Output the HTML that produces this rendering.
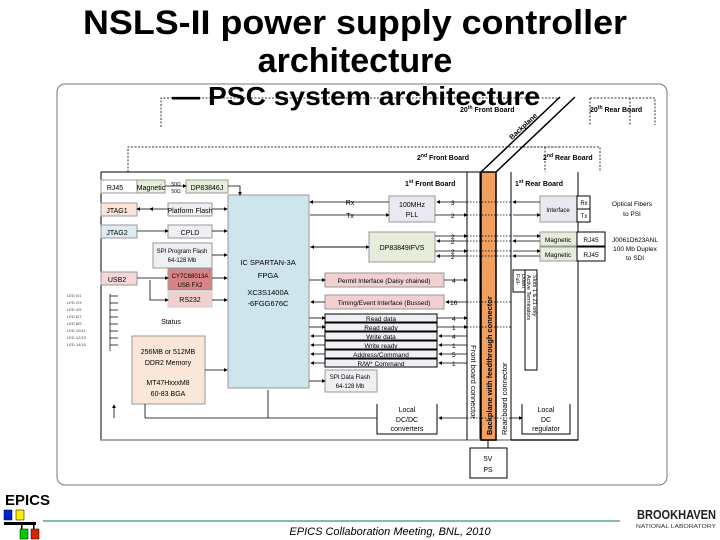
<!DOCTYPE html>
<html><head><meta charset="utf-8"><style>
body{margin:0;background:#fff;width:720px;height:540px;overflow:hidden}
svg{display:block}
text{font-family:"Liberation Sans",sans-serif}
</style></head><body>
<svg width="720" height="540" viewBox="0 0 720 540" xmlns="http://www.w3.org/2000/svg">
<defs><marker id="a" markerWidth="5" markerHeight="5" refX="4" refY="2.5" orient="auto"><path d="M0,0L5,2.5L0,5z" fill="#000"/></marker></defs>
<text x="355" y="34" font-size="34" font-weight="bold" text-anchor="middle" textLength="544" lengthAdjust="spacingAndGlyphs">NSLS-II power supply controller</text>
<text x="355" y="72" font-size="34" font-weight="bold" text-anchor="middle">architecture</text>
<rect x="57" y="84" width="610" height="401" rx="8" fill="none" stroke="#777" stroke-width="1"/>
<g fill="none" stroke="#333" stroke-width="1" stroke-dasharray="2,1.5">
<path d="M161,127V98H560M590,98H655V125M590,98V125M630,98V125"/>
<path d="M128,172V147H560M520,147H600V172M545,147V172"/>
</g>
<text x="172" y="105" font-size="26" font-weight="bold" textLength="368" lengthAdjust="spacingAndGlyphs">— PSC system architecture</text>
<text x="460" y="112" font-size="7" font-weight="bold">20<tspan font-size="5" dy="-3">th</tspan><tspan dy="3"> Front Board</tspan></text>
<text x="590" y="112" font-size="7" font-weight="bold">20<tspan font-size="5" dy="-3">th</tspan><tspan dy="3"> Rear Board</tspan></text>
<text x="417" y="160" font-size="7" font-weight="bold">2<tspan font-size="5" dy="-3">nd</tspan><tspan dy="3"> Front Board</tspan></text>
<text x="543" y="160" font-size="7" font-weight="bold">2<tspan font-size="5" dy="-3">nd</tspan><tspan dy="3"> Rear Board</tspan></text>
<text x="405" y="186" font-size="7" font-weight="bold">1<tspan font-size="5" dy="-3">st</tspan><tspan dy="3"> Front Board</tspan></text>
<text x="515" y="186" font-size="7" font-weight="bold">1<tspan font-size="5" dy="-3">st</tspan><tspan dy="3"> Rear Board</tspan></text>
<path d="M481,172L560,97M496,172L575,97" stroke="#000" stroke-width="1.5"/>
<text x="0" y="0" font-size="7" font-weight="bold" transform="translate(512,140) rotate(-43)">Backplane</text>
<path d="M101,172H480V440M101,172V440H578" fill="none" stroke="#000"/>
<path d="M101,440H578" stroke="#aaa" stroke-width="2"/>
<path d="M467,172V440M511,172V440M578,172V440H511" fill="none" stroke="#000"/>
<rect x="481" y="172" width="15" height="268" fill="#f0a060" stroke="#000" stroke-width="1.5"/>
<text transform="translate(492,435) rotate(-90)" font-size="7.5" font-weight="bold">Backplane with feedthrough connector</text>
<text transform="translate(471,345) rotate(90)" font-size="7.5">Front board connector</text>
<text transform="translate(507,435) rotate(-90)" font-size="7.5">Rear board connector</text>
<g font-size="7" text-anchor="middle">
<rect x="101" y="180" width="36" height="13" fill="#fff" stroke="#999"/><text x="115" y="190">RJ45</text>
<rect x="137" y="180" width="28" height="13" fill="#e6edda" stroke="#999"/><text x="151" y="190">Magnetic</text>
<text x="176" y="186" font-size="5">50Ω</text><text x="176" y="193" font-size="5">50Ω</text>
<rect x="186" y="180" width="42" height="13" fill="#e6edda" stroke="#999"/><text x="207" y="190">DP83846J</text>
<rect x="228" y="195" width="81" height="193" fill="#cfe5ee" stroke="#999"/>
<text x="268" y="265" font-size="7.5">IC SPARTAN-3A</text><text x="268" y="278" font-size="7.5">FPGA</text>
<text x="268" y="295" font-size="7.5">XC3S1400A</text><text x="268" y="306" font-size="7.5">-6FGG676C</text>
<rect x="101" y="203" width="36" height="13" fill="#fbe5d8" stroke="#999"/><text x="117" y="213">JTAG1</text>
<rect x="168" y="203" width="44" height="13" fill="#eef0f4" stroke="#999"/><text x="190" y="213">Platform Flash</text>
<rect x="101" y="225" width="36" height="13" fill="#dcebf4" stroke="#999"/><text x="117" y="235">JTAG2</text>
<rect x="168" y="225" width="44" height="13" fill="#eef0f4" stroke="#999"/><text x="190" y="235">CPLD</text>
<rect x="153" y="243" width="59" height="25" fill="#eef0f4" stroke="#999"/><text x="182" y="253" font-size="6">SPI Program Flash</text><text x="182" y="262" font-size="6">64-128 Mb</text>
<rect x="101" y="272" width="36" height="13" fill="#f2d8d8" stroke="#999"/><text x="117" y="282">USB2</text>
<rect x="168" y="269" width="44" height="21" fill="#d98484" stroke="#999"/><text x="190" y="278" font-size="6">CY7C68013A</text><text x="190" y="287" font-size="6">USB FX2</text>
<rect x="168" y="292" width="44" height="15" fill="#f2d0d0" stroke="#ccc"/><text x="190" y="302">RS232</text>
<text x="171" y="324">Status</text>
<rect x="132" y="336" width="73" height="68" fill="#fbe7da" stroke="#999"/>
<text x="168" y="354">256MB or 512MB</text><text x="168" y="365">DDR2 Memory</text>
<text x="168" y="385">MT47HxxxM8</text><text x="168" y="396">60-83 BGA</text>
</g>
<g font-size="4" fill="#444">
<text x="67" y="297">LED 0/1</text><text x="67" y="304">LED 2/3</text><text x="67" y="311">LED 4/5</text><text x="67" y="318">LED 6/7</text>
<text x="67" y="325">LED 8/9</text><text x="67" y="332">LED 10/11</text><text x="67" y="339">LED 12/13</text><text x="67" y="346">LED 14/15</text>
</g>
<path d="M110,294V351M110,296H118M110,303H118M110,310H118M110,317H118M110,324H118M110,331H118M110,338H118M110,345H118" stroke="#000" stroke-width=".7" fill="none"/>
<g stroke="#000" stroke-width=".8" fill="none" marker-end="url(#a)">
<path d="M165,186H186"/><path d="M228,186H240V195"/>
<path d="M168,209H150"/><path d="M150,209H137"/><path d="M212,209H227"/>
<path d="M137,231H168"/><path d="M212,231H227"/><path d="M212,255H227"/>
<path d="M137,278H168"/><path d="M212,278H227"/><path d="M150,280V300H168"/><path d="M212,300H227"/>
<path d="M205,370H227"/><path d="M114,418V405"/>
</g>
<path d="M145,418H377M268,418V390M145,418V404" stroke="#000" stroke-width=".8" fill="none"/>
<g font-size="7" text-anchor="middle">
<rect x="389" y="196" width="46" height="26" fill="#ebe8f2" stroke="#999"/><text x="412" y="207">100MHz</text><text x="412" y="217">PLL</text>
<text x="350" y="205">Rx</text><text x="350" y="218">Tx</text>
<rect x="369" y="232" width="66" height="30" fill="#e6edda" stroke="#999"/><text x="402" y="250">DP83849IFVS</text>
<rect x="325" y="273" width="119" height="14" fill="#f2d0d0" stroke="#999"/><text x="384" y="283" font-size="6.5">Permit Interface (Daisy chained)</text>
<rect x="325" y="295" width="119" height="14" fill="#f2d0d0" stroke="#999"/><text x="384" y="305" font-size="6.5">Timing/Event Interface (Bussed)</text>
<rect x="325" y="314" width="112" height="8" fill="#eef0f4" stroke="#000"/><text x="381" y="321" font-size="6.5">Read data</text>
<rect x="325" y="323" width="112" height="8" fill="#eef0f4" stroke="#000"/><text x="381" y="330" font-size="6.5">Read ready</text>
<rect x="325" y="332" width="112" height="8" fill="#eef0f4" stroke="#000"/><text x="381" y="339" font-size="6.5">Write data</text>
<rect x="325" y="341" width="112" height="8" fill="#eef0f4" stroke="#000"/><text x="381" y="348" font-size="6.5">Write ready</text>
<rect x="325" y="350" width="112" height="8" fill="#eef0f4" stroke="#000"/><text x="381" y="357" font-size="6.5">Address/Command</text>
<rect x="325" y="359" width="112" height="8" fill="#eef0f4" stroke="#000"/><text x="381" y="366" font-size="6.5">R/W* Command</text>
<rect x="325" y="370" width="52" height="22" fill="#eef0f4" stroke="#999"/><text x="350" y="379" font-size="6">SPI Data Flash</text><text x="350" y="388" font-size="6">64-128 Mb</text>
<path d="M377,404V434H437V404" fill="none" stroke="#000"/>
<text x="407" y="412">Local</text><text x="407" y="422">DC/DC</text><text x="407" y="431">converters</text>
<path d="M522,404V434H570V404" fill="none" stroke="#000"/>
<text x="546" y="412">Local</text><text x="546" y="422">DC</text><text x="546" y="431">regulator</text>
<rect x="470" y="448" width="37" height="30" fill="#fff" stroke="#000"/><text x="488" y="461">5V</text><text x="488" y="472">PS</text>
<path d="M488,440V448" stroke="#000"/>
<rect x="540" y="196" width="37" height="26" fill="#ebe8f2" stroke="#999"/><text x="558" y="212" font-size="6">Interface</text>
<rect x="577" y="196" width="13" height="13" fill="#fff" stroke="#000"/><text x="584" y="205" font-size="6">Rx</text>
<rect x="577" y="209" width="13" height="13" fill="#fff" stroke="#000"/><text x="584" y="218" font-size="6">Tx</text>
<text x="632" y="206" font-size="6.5">Optical Fibers</text><text x="632" y="216" font-size="6.5">to PSI</text>
<rect x="540" y="232" width="37" height="14" fill="#e6edda" stroke="#999"/><text x="558" y="242" font-size="6.5">Magnetic</text>
<rect x="577" y="232" width="28" height="14" fill="#fff" stroke="#000"/><text x="591" y="242" font-size="6.5">RJ45</text>
<rect x="540" y="247" width="37" height="14" fill="#e6edda" stroke="#999"/><text x="558" y="257" font-size="6.5">Magnetic</text>
<rect x="577" y="247" width="28" height="14" fill="#fff" stroke="#000"/><text x="591" y="257" font-size="6.5">RJ45</text>
<text x="635" y="242" font-size="6.5">J0061D623ANL</text><text x="635" y="251" font-size="6.5">100 Mb Duplex</text><text x="635" y="260" font-size="6.5">to SDI</text>
</g>
<rect x="513" y="270" width="12" height="22" fill="#fff" stroke="#000"/>
<text transform="translate(516,274) rotate(90)" font-size="5.5">Full-</text><text transform="translate(522,274) rotate(90)" font-size="5.5">Down</text>
<rect x="525" y="270" width="12" height="100" fill="#fff" stroke="#000"/>
<text transform="translate(527,275) rotate(90)" font-size="5.5">Active Terminators</text><text transform="translate(533,275) rotate(90)" font-size="5.5">Slots 1 &amp; 21 only</text>
<g stroke="#000" stroke-width=".8" fill="none" marker-end="url(#a)">
<path d="M389,202H310"/><path d="M310,215H389"/>
<path d="M467,202H437"/><path d="M435,215H467"/>
<path d="M310,247H369"/><path d="M369,247H311"/>
<path d="M435,236H467"/><path d="M467,241H437"/><path d="M435,251H467"/><path d="M467,256H437"/>
<path d="M309,280H325"/><path d="M444,280H467"/>
<path d="M325,302H311"/><path d="M467,302H446"/>
<path d="M309,318H325"/><path d="M309,327H325"/><path d="M325,336H311"/><path d="M325,345H311"/><path d="M325,354H311"/><path d="M325,363H311"/>
<path d="M437,318H467"/><path d="M437,327H467"/><path d="M467,336H439"/><path d="M467,345H439"/><path d="M467,354H439"/><path d="M467,363H439"/>
<path d="M309,381H325"/><path d="M467,418H439"/><path d="M511,418H522"/>
<path d="M540,202H513"/><path d="M513,215H540"/>
<path d="M513,236H540"/><path d="M540,241H513"/><path d="M513,251H540"/><path d="M540,256H513"/>
</g>
<g stroke="#000" stroke-width=".7" stroke-dasharray="1.5,1.5"><path d="M467,202H511M467,215H511M467,236H511M467,241H511M467,251H511M467,256H511M467,302H511M467,327H511M467,418H511"/></g>
<g font-size="6.5" fill="#000"><text x="451" y="205">3</text><text x="451" y="218">2</text><text x="451" y="239">2</text><text x="451" y="244">2</text><text x="451" y="254">2</text><text x="451" y="259">2</text>
<text x="452" y="283">4</text><text x="450" y="305">16</text><text x="452" y="321">4</text><text x="452" y="330">1</text><text x="452" y="339">4</text><text x="452" y="348">1</text><text x="452" y="357">5</text><text x="452" y="366">1</text></g>
<text x="5" y="505" font-size="15" font-weight="bold">EPICS</text>
<rect x="4" y="510" width="8" height="10" fill="#0022cc" stroke="#000" stroke-width=".5"/>
<rect x="16" y="510" width="8" height="10" fill="#ffee00" stroke="#000" stroke-width=".5"/>
<rect x="4" y="522" width="32" height="3" fill="#000"/>
<rect x="21" y="525" width="1.5" height="4" fill="#000"/><rect x="33" y="525" width="1.5" height="4" fill="#000"/>
<rect x="20" y="529" width="8" height="10" fill="#00cc00" stroke="#000" stroke-width=".5"/>
<rect x="31" y="529" width="8" height="10" fill="#dd2200" stroke="#000" stroke-width=".5"/>
<path d="M43,521H620" stroke="#33996a" stroke-width="1.2"/>
<text x="390" y="535" font-size="11" font-style="italic" text-anchor="middle">EPICS Collaboration Meeting, BNL, 2010</text>
<text x="637" y="519" font-size="12.5" font-weight="bold" fill="#222" textLength="79" lengthAdjust="spacingAndGlyphs">BROOKHAVEN</text>
<text x="636" y="528" font-size="5.5" fill="#333" textLength="80" lengthAdjust="spacingAndGlyphs">NATIONAL LABORATORY</text>
</svg>
</body></html>
